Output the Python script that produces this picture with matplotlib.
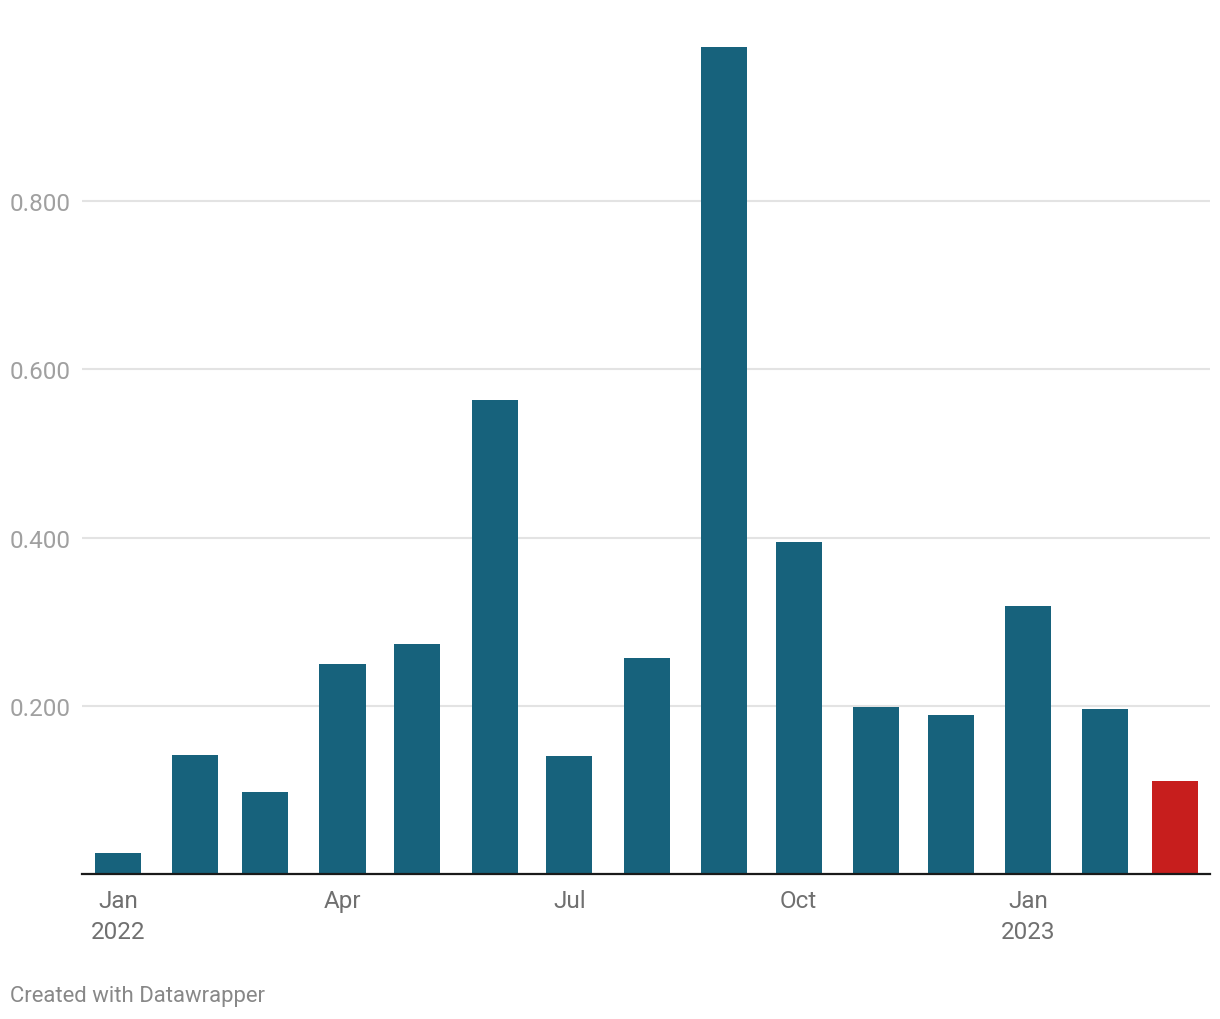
import datetime as dt
import matplotlib.pyplot as plt
import matplotlib.dates as mdates

plt.rcParams["font.family"] = ["Roboto", "DejaVu Sans"]

months = [dt.date(2022, m, 1) for m in range(1, 13)] + [dt.date(2023, m, 1) for m in range(1, 4)]
values = [0.025, 0.142, 0.098, 0.250, 0.274, 0.564, 0.140, 0.257,
          0.983, 0.395, 0.199, 0.189, 0.319, 0.196, 0.111]
highlight = [False] * 14 + [True]

yticks = [0.2, 0.4, 0.6, 0.8]
ytick_labels = ["0.200", "0.400", "0.600", "0.800"]
xtick_dates = [dt.date(2022, 1, 1), dt.date(2022, 4, 1), dt.date(2022, 7, 1),
               dt.date(2022, 10, 1), dt.date(2023, 1, 1)]
xtick_labels = ["Jan\n2022", "Apr", "Jul", "Oct", "Jan\n2023"]

blue = "#17627c"
red = "#c71e1d"

W, H = 1220, 1020
fig = plt.figure(figsize=(W / 100, H / 100), dpi=100)
ax = fig.add_axes([82 / W, 1 - 875 / H, (1210 - 82) / W, 841 / H])

x = mdates.date2num(months)
colors = [red if h else blue for h in highlight]
ax.bar(x, values, width=18.5, color=colors, zorder=2)

ax.set_xlim(mdates.date2num(dt.date(2022, 1, 1)) - 14.5,
            mdates.date2num(dt.date(2023, 3, 1)) + 14.0)
ax.set_ylim(0, 1.0)

ax.set_yticks(yticks)
ax.set_yticklabels(ytick_labels)
ax.grid(axis="y", color="#e3e3e3", linewidth=1.5, zorder=0)
ax.tick_params(axis="y", length=0, pad=72 * 0.72, labelsize=17.5, labelcolor="#a0a0a0")
for lab in ax.get_yticklabels():
    lab.set_horizontalalignment("left")

ax.set_xticks(mdates.date2num(xtick_dates))
ax.set_xticklabels(xtick_labels, linespacing=1.45)
ax.tick_params(axis="x", length=0, pad=10.5, labelsize=17.5, labelcolor="#707070")

for s in ["top", "right", "left"]:
    ax.spines[s].set_visible(False)
ax.spines["bottom"].set_color("#1a1a1a")
ax.spines["bottom"].set_linewidth(1.6)
ax.spines["bottom"].set_zorder(3)

fig.text(10 / W, 1 - 997 / H, "Created with Datawrapper", fontsize=15.9,
         color="#888888", va="center", ha="left")

fig.savefig("out.png", dpi=100)
